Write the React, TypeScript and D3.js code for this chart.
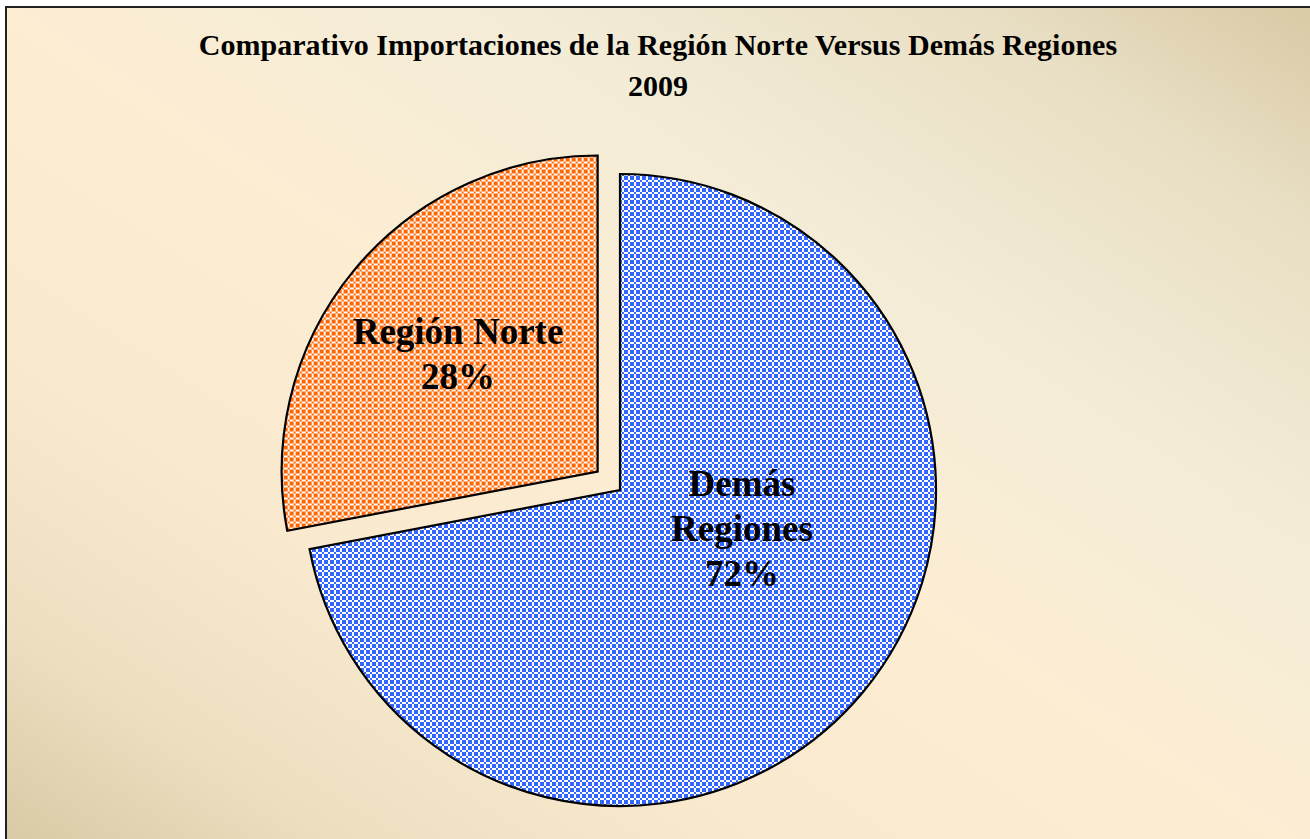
import React from "react";
import * as d3 from "d3";

const categories = ["Demás Regiones", "Región Norte"];
const values = [72, 28];
const labelLines = [["Demás", "Regiones", "72%"], ["Región Norte", "28%"]];
const titleLines = ["Comparativo Importaciones de la Región Norte Versus Demás Regiones", "2009"];

const W = 1310;
const H = 839;
const cx = 620;
const cy = 490;
const R = 316;
const explode = [0, 29];
const labelAnchor = [
  { dx: 122, dy: 6 },
  { dx: -162, dy: -146 },
];

const cellIdx = [0, 1, 2];

export default function App() {
  const pie = d3.pie<number>().sort(null).startAngle(0).endAngle(2 * Math.PI);
  const arcs = pie(values);
  const arc = d3.arc<d3.PieArcDatum<number>>().innerRadius(0).outerRadius(R);
  const patternIds = ["patBlue", "patOrange"];
  const colors = ["#3366FF", "#FF6600"];
  const fontStack = "'Liberation Serif', 'Times New Roman', serif";

  return (
    <svg width={W} height={H} style={{ position: "absolute", left: 0, top: 0 }}>
      <defs>
        <linearGradient id="bg" x1="1" y1="0" x2="0" y2="1">
          <stop offset="0" stopColor="#D8C9A4" />
          <stop offset="0.14" stopColor="#E9DFC4" />
          <stop offset="0.32" stopColor="#F3ECD7" />
          <stop offset="0.5" stopColor="#FCEDD3" />
          <stop offset="0.7" stopColor="#F9EACF" />
          <stop offset="0.86" stopColor="#ECDFC0" />
          <stop offset="1" stopColor="#D6C8A3" />
        </linearGradient>
        {colors.map((c, i) => (
          <pattern key={i} id={patternIds[i]} width={6} height={6} patternUnits="userSpaceOnUse">
            <rect width={6} height={6} fill="#FFFFFF" />
            {cellIdx.flatMap((r) =>
              cellIdx
                .filter((q) => (r + q) % 2 === 0)
                .map((q) => <rect key={`${r}-${q}`} x={q * 2} y={r * 2} width={2} height={2} fill={c} />)
            )}
          </pattern>
        ))}
      </defs>
      <rect x={6} y={7} width={W + 20} height={H + 20} fill="url(#bg)" stroke="#222" strokeWidth={2} />
      {titleLines.map((t, i) => (
        <text
          key={i}
          x={658}
          y={55 + i * 41}
          textAnchor="middle"
          fontFamily={fontStack}
          fontWeight="bold"
          fontSize={30}
          fill="#000"
        >
          {t}
        </text>
      ))}
      <g transform={`translate(${cx},${cy})`}>
        {arcs.map((a, i) => {
          const mid = (a.startAngle + a.endAngle) / 2;
          const ox = Math.sin(mid) * explode[i];
          const oy = -Math.cos(mid) * explode[i];
          return (
            <path
              key={categories[i]}
              d={arc(a) || ""}
              transform={`translate(${ox},${oy})`}
              fill={`url(#${patternIds[i]})`}
              stroke="#000"
              strokeWidth={2.2}
              strokeLinejoin="miter"
            />
          );
        })}
        {arcs.map((a, i) => {
          const lines = labelLines[i];
          const lh = 45;
          return (
            <text
              key={"l" + i}
              textAnchor="middle"
              fontFamily={fontStack}
              fontWeight="bold"
              fontSize={37}
              fill="#000"
            >
              {lines.map((ln, j) => (
                <tspan key={j} x={labelAnchor[i].dx} y={labelAnchor[i].dy + j * lh}>
                  {ln}
                </tspan>
              ))}
            </text>
          );
        })}
      </g>
    </svg>
  );
}
